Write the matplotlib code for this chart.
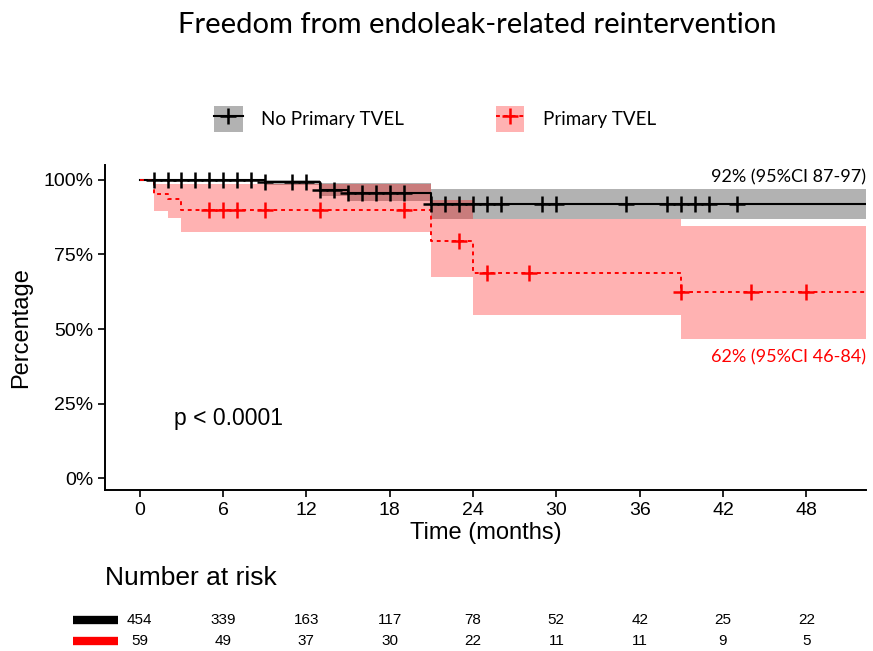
import numpy as np
import matplotlib.pyplot as plt
import matplotlib.transforms as mtransforms
from matplotlib.lines import Line2D
from matplotlib.patches import Patch

# step curves (time of step, survival after step)
t_no = np.array([0, 9, 13, 15, 21, 52.3])
s_no = np.array([1.0, 0.992, 0.966, 0.957, 0.92, 0.92])
lo_no = np.array([1.0, 0.983, 0.946, 0.931, 0.868, 0.868])
hi_no = np.array([1.0, 1.0, 0.989, 0.989, 0.969, 0.969])
cens_no = np.array([1, 2, 3, 4, 5, 6, 7, 8, 9, 11, 12, 13, 14, 15, 16, 17, 18, 19,
                    21, 22, 23, 24, 25, 26, 29, 30, 35, 38, 39, 40, 41, 43])

t_tv = np.array([0, 1, 2, 3, 21, 24, 39, 52.3])
s_tv = np.array([1.0, 0.953, 0.935, 0.898, 0.796, 0.687, 0.625, 0.625])
lo_tv = np.array([1.0, 0.897, 0.871, 0.826, 0.676, 0.547, 0.465, 0.465])
hi_tv = np.array([1.0, 0.985, 0.985, 0.985, 0.933, 0.868, 0.846, 0.846])
cens_tv = np.array([5, 6, 7, 9, 13, 19, 23, 25, 28, 39, 44, 48])

# number at risk
risk_times = [0, 6, 12, 18, 24, 30, 36, 42, 48]
risk_no = [454, 339, 163, 117, 78, 52, 42, 25, 22]
risk_tv = [59, 49, 37, 30, 22, 11, 11, 9, 5]

hel = 'Liberation Sans'
cal = 'Lato'

fig = plt.figure(figsize=(8.73, 6.51), dpi=100)
ax = fig.add_axes([0.1203, 0.2473, 0.8717, 0.4992])

def surv_at(t, times, surv):
    idx = np.searchsorted(times, t, side='right') - 1
    return surv[idx]

# confidence bands
ax.fill_between(t_no, lo_no, hi_no, step='post', color='black', alpha=0.3, lw=0)
ax.fill_between(t_tv, lo_tv, hi_tv, step='post', color='red', alpha=0.3, lw=0)

# curves
ax.step(t_no, s_no, where='post', color='black', lw=1.5)
ax.step(t_tv, s_tv, where='post', color='red', lw=1.4, ls=(0, (2, 2)))

# censor marks
ax.plot(cens_no, surv_at(cens_no, t_no, s_no), ls='none', marker='+',
        color='black', ms=11, mew=1.8)
ax.plot(cens_tv, surv_at(cens_tv, t_tv, s_tv), ls='none', marker='+',
        color='red', ms=11, mew=1.8)

ax.set_xlim(-2.5, 52.3)
ax.set_ylim(-0.04, 1.05)
ax.set_xticks(risk_times)
ax.set_yticks([0, 0.25, 0.5, 0.75, 1.0])
ax.set_yticklabels(['0%', '25%', '50%', '75%', '100%'])
ax.tick_params(labelsize=14, width=1.2, length=5, colors='black')
for lab in ax.get_xticklabels() + ax.get_yticklabels():
    lab.set_fontfamily(hel)
for sp in ['top', 'right']:
    ax.spines[sp].set_visible(False)
for sp in ['left', 'bottom']:
    ax.spines[sp].set_linewidth(1.4)

ax.set_xlabel('Time (months)', fontsize=17, family=hel, labelpad=2)
ax.set_ylabel('Percentage', fontsize=17, family=hel, labelpad=8)

ax.text(2.5, 0.2, 'p < 0.0001', fontsize=16.5, family=hel, va='center')
ax.text(52.3, 1.01, '92% (95%CI 87-97)', fontsize=13, family=cal,
        ha='right', va='center', color='black')
ax.text(52.3, 0.406, '62% (95%CI 46-84)', fontsize=13, family=cal,
        ha='right', va='center', color='red')

fig.text(0.547, 0.962, 'Freedom from endoleak-related reintervention',
         fontsize=21, family=cal, ha='center', va='center')

# legend
h_no = (Patch(facecolor='black', alpha=0.3, lw=0),
        Line2D([], [], color='black', lw=1.5, marker='+', ms=11, mew=1.8))
h_tv = (Patch(facecolor='red', alpha=0.3, lw=0),
        Line2D([], [], color='red', lw=1.4, ls=(0, (2, 2)), marker='+', ms=11, mew=1.8))
leg = fig.legend([h_no, h_tv], ['No Primary TVEL', 'Primary TVEL'],
                 loc='center', bbox_to_anchor=(0.4985, 0.817), ncol=2,
                 frameon=False, handlelength=1.5, handleheight=1.7,
                 columnspacing=4.9, handletextpad=1.0,
                 prop={'family': cal, 'size': 13.5})

# number at risk table
fig.text(0.12, 0.112, 'Number at risk', fontsize=19, family=hel, va='center')
trans = mtransforms.blended_transform_factory(ax.transData, fig.transFigure)
for t, n1, n2 in zip(risk_times, risk_no, risk_tv):
    fig.text(t, 0.0476, str(n1), transform=trans, fontsize=11, family=hel,
             ha='center', va='center')
    fig.text(t, 0.0154, str(n2), transform=trans, fontsize=11, family=hel,
             ha='center', va='center')
fig.add_artist(Line2D([0.0836, 0.135], [0.0476, 0.0476], color='black', lw=6,
                      solid_capstyle='butt', transform=fig.transFigure))
fig.add_artist(Line2D([0.0836, 0.135], [0.0154, 0.0154], color='red', lw=6,
                      solid_capstyle='butt', transform=fig.transFigure))

fig.savefig('out.png', dpi=100)
